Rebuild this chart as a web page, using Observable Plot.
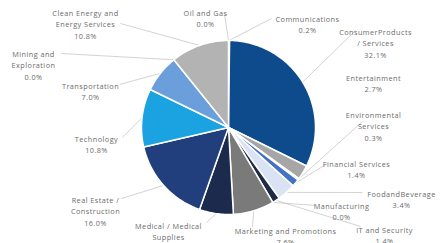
<!DOCTYPE html>
<html>
<head>
<meta charset="utf-8">
<script src="https://cdn.jsdelivr.net/npm/d3@7"></script>
<script src="https://cdn.jsdelivr.net/npm/@observablehq/plot@0.6"></script>
<style>
  html, body { margin: 0; padding: 0; background: #fff; overflow: hidden; }
</style>
</head>
<body>
<div id="chart"></div>
<script>
// ---- data ----
const categories = [
  "Communications", "Consumer Products / Services", "Entertainment", "Environmental Services",
  "Financial Services", "Food and Beverage", "IT and Security", "Manufacturing",
  "Marketing and Promotions", "Medical / Medical Supplies", "Real Estate / Construction",
  "Technology", "Transportation", "Mining and Exploration", "Clean Energy and Energy Services",
  "Oil and Gas"
];
const values = [0.2, 32.1, 2.7, 0.3, 1.4, 3.4, 1.4, 0.0, 7.6, 6.3, 16.0, 10.8, 7.0, 0.0, 10.8, 0.0];
const labelLines = [
  "Communications", "ConsumerProducts\n/ Services", "Entertainment", "Environmental\nServices",
  "Financial Services", "FoodandBeverage", "IT and Security", "Manufacturing",
  "Marketing and Promotions", "Medical / Medical\nSupplies", "Real Estate /\nConstruction",
  "Technology", "Transportation", "Mining and\nExploration", "Clean Energy and\nEnergy Services",
  "Oil and Gas"
];

// ---- styles / layout ----
const palette = [
  "#a5a5a5", "#0d4b8c", "#a6a6a6", "#d9e2f3", "#4472c4", "#dae3f3", "#1f2a44", "#7f7f7f",
  "#7a7a7a", "#1c2b4d", "#213f7c", "#1ba2e0", "#6b9fdc", "#8fb4e3", "#b3b3b3", "#999999"
];
// label anchor (px) for first text line and leader start (px); null = no leader
const labelPx = [
  [307, 17], [375, 30], [373, 76], [373, 113], [356, 162], [401, 192], [384, 228], [341, 204],
  [285, 229], [168, 224], [95, 198], [96, 137], [90, 84], [33, 52], [85, 11], [205, 11]
];
const leaderPx = [
  [271, 18], [355, 30], null, [362, 121], [327, 163], [362, 192], [360, 226], [316, 205],
  [252, 226], [206, 222], [121, 198], [122, 137], [119, 84], [61, 53], [120, 23], [224, 14]
];
const W = 441, H = 243, CX = 228, CY = 127, R = 87;
const px2x = p => (p - CX) / R;
const px2y = p => (CY - p) / R;

// ---- geometry from data ----
const total = d3.sum(values);
let acc = 0;
const slices = categories.map((c, i) => {
  const a0 = acc / total * 2 * Math.PI;
  acc += values[i];
  const a1 = acc / total * 2 * Math.PI;
  return {i, name: c, value: values[i], a0, a1, mid: (a0 + a1) / 2, color: palette[i]};
});
const polyPts = [];
for (const s of slices) {
  if (s.value <= 0) continue;
  polyPts.push({name: s.name, color: s.color, x: 0, y: 0});
  const n = Math.max(2, Math.ceil((s.a1 - s.a0) / 0.02));
  for (let k = 0; k <= n; k++) {
    const a = s.a0 + (s.a1 - s.a0) * k / n;
    polyPts.push({name: s.name, color: s.color, x: Math.sin(a), y: Math.cos(a)});
  }
  polyPts.push({name: s.name, color: s.color, x: 0, y: 0});
}
const labels = slices.map(s => ({
  text: labelLines[s.i] + "\n" + s.value.toFixed(1) + "%",
  x: px2x(labelPx[s.i][0]),
  y: px2y(labelPx[s.i][1] - 4)
}));
const leaders = slices.filter(s => leaderPx[s.i]).map(s => ({
  x1: px2x(leaderPx[s.i][0]), y1: px2y(leaderPx[s.i][1]),
  x2: Math.sin(s.mid) * 1.0, y2: Math.cos(s.mid) * 1.0
}));

const chart = Plot.plot({
  width: W, height: H,
  margin: 0,
  x: {domain: [px2x(0), px2x(W)], axis: null},
  y: {domain: [px2y(H), px2y(0)], axis: null},
  style: {fontFamily: "'Open Sans', sans-serif", background: "#fff"},
  marks: [
    Plot.link(leaders, {x1: "x1", y1: "y1", x2: "x2", y2: "y2", stroke: "#c8c8c8", strokeWidth: 0.8}),
    Plot.line(polyPts, {x: "x", y: "y", z: "name", fill: "color", stroke: "#ffffff", strokeWidth: 1.5, strokeLinejoin: "round", curve: "linear"}),
    Plot.text(labels, {x: "x", y: "y", text: "text", fontSize: 7.3, lineHeight: 1.6, lineAnchor: "top", textAnchor: "middle", fill: "#6b6b6b", style: "letter-spacing:0.45px"})
  ]
});
chart.querySelectorAll("text").forEach(t => t.setAttribute("letter-spacing", "0.45"));
document.getElementById("chart").appendChild(chart);
</script>
</body>
</html>
